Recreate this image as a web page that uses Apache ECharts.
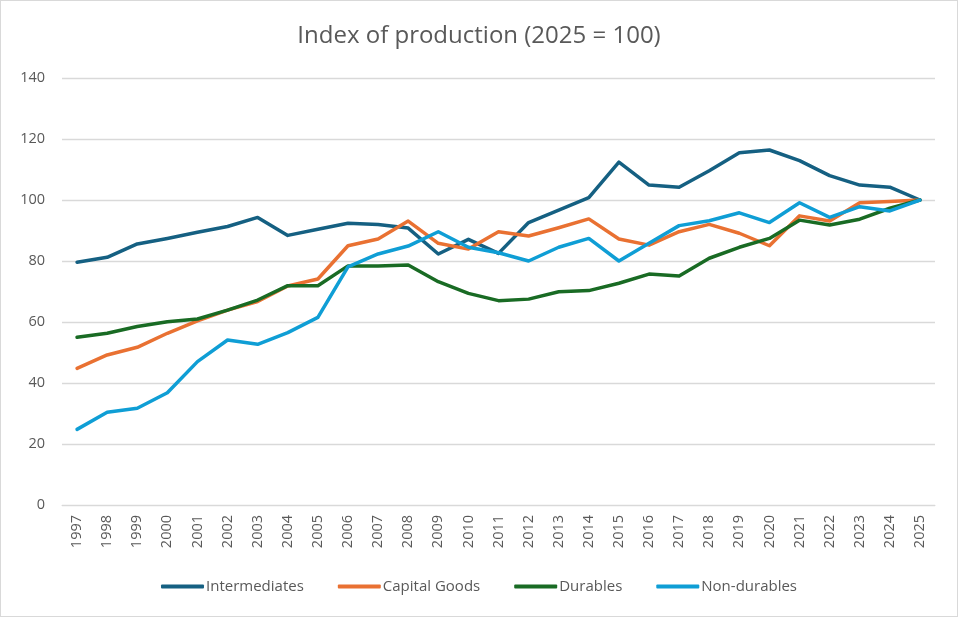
<!DOCTYPE html>
<html>
<head>
<meta charset="utf-8">
<script src="https://cdn.jsdelivr.net/npm/echarts@6/dist/echarts.min.js"></script>
<style>
html,body{margin:0;padding:0;background:#fff;}
#c{width:958px;height:617px;box-sizing:border-box;border:1px solid #d9d9d9;}
</style>
</head>
<body>
<div id="c"></div>
<script>
const years = ['1997','1998','1999','2000','2001','2002','2003','2004','2005','2006','2007','2008','2009','2010','2011','2012','2013','2014','2015','2016','2017','2018','2019','2020','2021','2022','2023','2024','2025'];
const intermediates = [79.6,81.2,85.6,87.4,89.4,91.3,94.3,88.4,90.4,92.4,92.0,90.8,82.3,87.1,82.5,92.6,96.7,100.8,112.4,104.9,104.2,109.6,115.5,116.4,112.9,108.0,104.9,104.2,100];
const capitalGoods = [44.8,49.2,51.7,56.3,60.4,63.9,66.7,71.8,74.1,85.0,87.2,93.1,85.8,83.9,89.6,88.2,90.9,93.8,87.2,85.2,89.6,92.0,89.1,85.0,94.8,93.1,99.1,99.5,100];
const durables = [55.0,56.3,58.5,60.1,61.0,63.9,67.2,71.9,71.9,78.4,78.4,78.7,73.2,69.4,67.0,67.5,69.9,70.3,72.7,75.7,75.1,80.9,84.5,87.4,93.4,91.8,93.7,97.3,100];
const nonDurables = [24.8,30.4,31.7,36.8,47.0,54.1,52.7,56.5,61.5,78.1,82.3,84.9,89.6,84.5,82.7,80.0,84.5,87.4,80.0,85.8,91.6,93.2,95.8,92.6,99.1,94.3,97.8,96.4,100];
const yTicks = {min:0, max:140, interval:20};

const chart = echarts.init(document.getElementById('c'), null, {renderer:'canvas'});
const font = '"Open Sans", "Noto Sans", sans-serif';
function line(name, data, color){
  return {name, type:'line', data, symbol:'none', smooth:false,
    lineStyle:{width:3.5, color, cap:'round', join:'round'}, itemStyle:{color}};
}
chart.setOption({
  animation:false,
  title:{text:'Index of production (2025 = 100)', left:'center', top:18,
    textStyle:{fontFamily:font, fontSize:24, fontWeight:'normal', color:'#595959'}},
  grid:{left:61, right:22, top:77, bottom:111, containLabel:false},
  xAxis:{type:'category', data:years, boundaryGap:true,
    axisLine:{show:true, lineStyle:{color:'#d9d9d9', width:1}},
    axisTick:{show:false},
    axisLabel:{rotate:90, margin:10, fontFamily:font, fontSize:14.5, color:'#595959', interval:0}},
  yAxis:{type:'value', min:yTicks.min, max:yTicks.max, interval:yTicks.interval,
    axisLine:{show:false}, axisTick:{show:false},
    splitLine:{lineStyle:{color:'#d9d9d9', width:1.3}},
    axisLabel:{margin:17, fontFamily:font, fontSize:14.5, color:'#595959'}},
  legend:{top:573, left:'center', itemGap:34, itemWidth:43, itemHeight:4, icon:'roundRect',
    textStyle:{fontFamily:font, fontSize:15, color:'#595959', padding:[0,0,0,-3]},
    data:['Intermediates','Capital Goods','Durables','Non-durables']},
  series:[
    line('Intermediates', intermediates, '#156082'),
    line('Capital Goods', capitalGoods, '#E97132'),
    line('Durables', durables, '#196B24'),
    line('Non-durables', nonDurables, '#0F9ED5')
  ]
});
</script>
</body>
</html>
